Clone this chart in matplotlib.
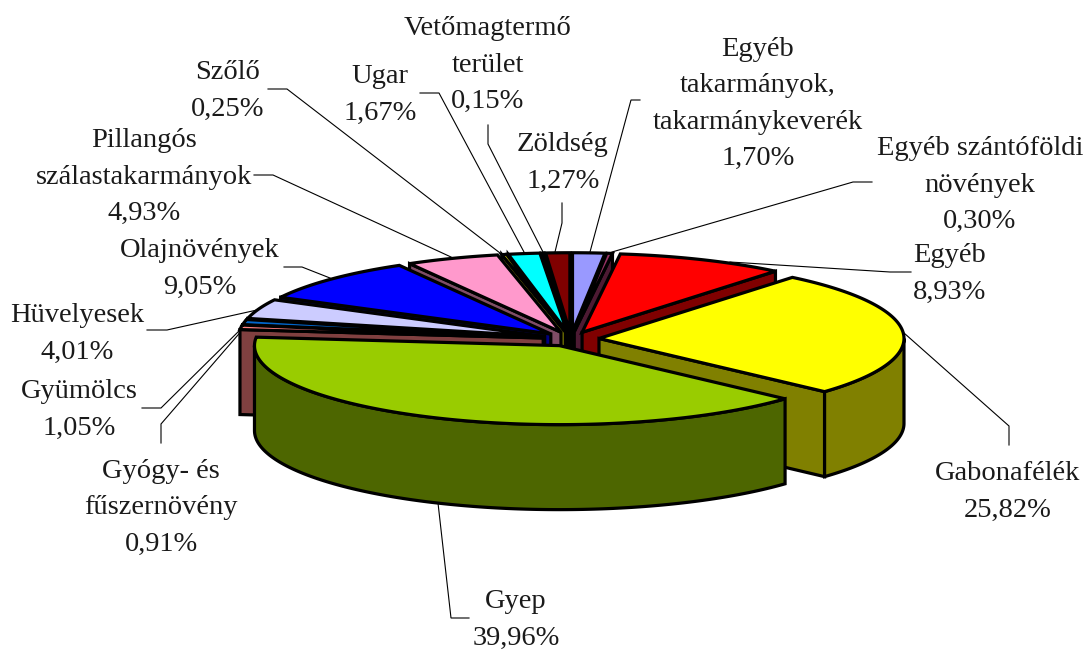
import numpy as np
import matplotlib
matplotlib.use('Agg')
import matplotlib.pyplot as plt
from matplotlib.colors import to_rgb
from matplotlib.patches import Polygon

# clockwise from 12 o'clock
names = ['Egyéb\ntakarmányok,\ntakarmánykeverék', 'Egyéb szántóföldi\nnövények', 'Egyéb',
         'Gabonafélék', 'Gyep', 'Gyógy- és\nfűszernövény', 'Gyümölcs', 'Hüvelyesek',
         'Olajnövények', 'Pillangós\nszálastakarmányok', 'Szőlő', 'Ugar',
         'Vetőmagtermő\nterület', 'Zöldség']
values = [1.70, 0.30, 8.93, 25.82, 39.96, 0.91, 1.05, 4.01, 9.05, 4.93, 0.25, 1.67, 0.15, 1.27]
colors = ['#9999FF', '#993366', '#FF0000', '#FFFF00', '#99CC00', '#FF8080', '#0066CC',
          '#CCCCFF', '#0000FF', '#FF99CC', '#FFFF00', '#00FFFF', '#660066', '#800000']

# layout, in pixels of the picture
label_pos = [(758, 101), (980, 182), (950, 271), (1008, 489), (516, 617), (161, 505), (79, 407),
             (77, 331), (200, 266), (144, 174), (228, 88), (380, 92), (488, 62), (563, 160)]
leaders = [
    [(640, 100), (631, 100), (590, 252)],
    [(872, 182), (853, 182), (612, 252)],
    [(911, 272), (890, 272), (730, 262)],
    [(1009, 445), (1009, 426), (904, 333)],
    [(469, 618), (451, 618), (438, 503)],
    [(161, 443), (161, 424), (244, 328)],
    [(142, 408), (161, 408), (243, 327)],
    [(147, 330), (167, 330), (257, 310)],
    [(284, 267), (302, 267), (330, 278)],
    [(254, 175), (273, 175), (451, 257)],
    [(268, 89), (287, 89), (500, 253)],
    [(420, 93), (439, 93), (524, 252)],
    [(488, 125), (488, 144), (543, 252)],
    [(562, 203), (562, 223), (555, 252)],
]
cx, cy = 571, 339
rx, ry = 305, 79
explode = 0.092
depth = 85
edge = 2.3
line_pitch = 36.5

fig = plt.figure(figsize=(10.88, 6.5), dpi=100)
ax = fig.add_axes([0, 0, 1, 1])
ax.set_xlim(0, 1088)
ax.set_ylim(650, 0)
ax.axis('off')

edges = np.cumsum([0] + values) / sum(values) * 2 * np.pi


def arc(x0, y0, a, b):
    t = np.linspace(a, b, max(int(abs(b - a) * 80), 2))
    return np.column_stack([x0 + rx * np.sin(t), y0 - ry * np.cos(t)])


def face(pts, color):
    ax.add_patch(Polygon(pts, closed=True, fc=color, ec='black', lw=edge, joinstyle='miter', zorder=2))


order = sorted(range(len(values)), key=lambda i: -np.cos((edges[i] + edges[i + 1]) / 2))
for i in order:
    a, b = edges[i], edges[i + 1]
    mid = (a + b) / 2
    x0 = cx + rx * explode * np.sin(mid)
    y0 = cy - ry * explode * np.cos(mid)
    top = arc(x0, y0, a, b)
    side = tuple(c / 2 for c in to_rgb(colors[i]))
    down = np.array([0, depth])
    apex = np.array([x0, y0])

    # cut faces, only the ones turned to the viewer
    if np.sin(a) < 0:
        face([apex, top[0], top[0] + down, apex + down], side)
    if np.sin(b) > 0:
        face([apex, top[-1], top[-1] + down, apex + down], side)
    # outer wall, front half only
    lo, hi = max(a, np.pi / 2), min(b, 3 * np.pi / 2)
    if hi > lo:
        w = arc(x0, y0, lo, hi)
        face(np.vstack([w, (w + down)[::-1]]), side)
    face(np.vstack([apex, top]), colors[i])

for pts in leaders:
    xs, ys = zip(*pts)
    ax.plot(xs, ys, color='black', lw=0.8, zorder=1, solid_joinstyle='miter')

# one text per line, the line pitch is wider than the font's own
for name, val, (x, y) in zip(names, values, label_pos):
    lines = name.split('\n') + [f'{val:.2f}'.replace('.', ',') + '%']
    y0 = y - (len(lines) - 1) / 2 * line_pitch + 9.5
    for k, line in enumerate(lines):
        ax.text(x, y0 + k * line_pitch, line, ha='center', va='baseline', family='Liberation Serif',
                fontsize=20.5, color='#1a1a1a', zorder=3)

fig.savefig('out.png', dpi=100)
